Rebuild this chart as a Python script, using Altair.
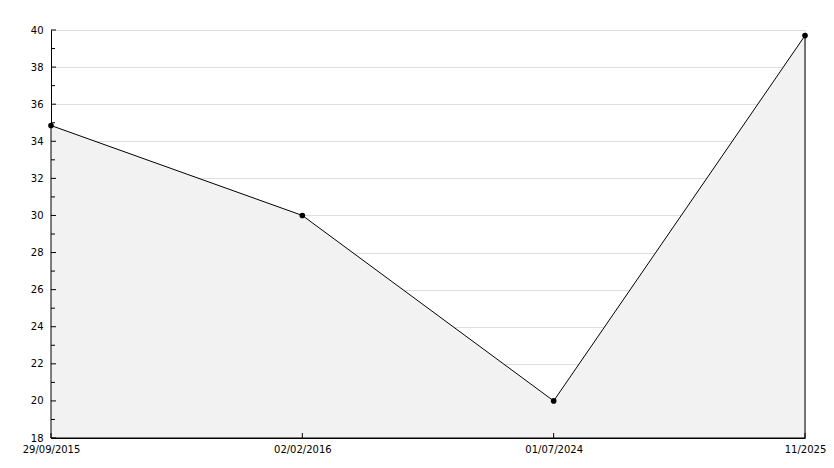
import altair as alt
import pandas as pd

dates = ["29/09/2015", "02/02/2016", "01/07/2024", "11/2025"]
values = [34.85, 30.0, 20.0, 39.7]
major_ticks = list(range(18, 41, 2))
minor_ticks = list(range(19, 40, 2))

df = pd.DataFrame({"date": dates, "value": values})
ymaj = pd.DataFrame({"value": major_ticks})
ymin = pd.DataFrame({"value": minor_ticks})
xt = pd.DataFrame({"date": dates})

W, H = 754, 408
FONT = "DejaVu Sans"

xscale = alt.Scale(type="point", domain=dates, padding=0)
yscale = alt.Scale(domain=[18, 40], zero=False, nice=False)

xaxis = alt.Axis(title=None, labelAngle=0, ticks=False, grid=False,
                 domainColor="black", labelPadding=6, labelFlush=False,
                 labelOverlap=False,
                 labelFont=FONT, labelFontSize=10, labelColor="black")
yaxis = alt.Axis(title=None, values=major_ticks, ticks=False, grid=True,
                 gridColor="#dddddd", domainColor="black", labelPadding=8,
                 labelOverlap=False, labelFlush=False,
                 labelFont=FONT, labelFontSize=10, labelColor="black")

X = alt.X("date:N", scale=xscale, sort=dates, axis=xaxis)
Y = alt.Y("value:Q", scale=yscale, axis=yaxis)

area = alt.Chart(df).mark_area(fill="#f2f2f2", stroke="black", strokeWidth=1).encode(
    x=X, y=Y, y2=alt.datum(18)
)
pts = alt.Chart(df).mark_point(shape="circle", filled=True, color="black", size=32, opacity=1).encode(
    x=X, y=Y,
)
ymajor = alt.Chart(ymaj).mark_rule(color="black").encode(
    y=Y, x=alt.value(0), x2=alt.value(5)
)
yminor = alt.Chart(ymin).mark_rule(color="black").encode(
    y=Y, x=alt.value(0), x2=alt.value(4)
)
xticks = alt.Chart(xt).mark_rule(color="black").encode(
    x=X, y=alt.value(H), y2=alt.value(H - 5)
)

chart = alt.layer(area, ymajor, yminor, xticks, pts).properties(
    width=W, height=H,
    autosize=alt.AutoSizeParams(type="none"),
    padding={"left": 43, "top": 22, "right": 21, "bottom": 22},
).configure_view(stroke=None).configure(background="white")

chart.save("out.html", embed_options={"renderer": "svg", "actions": False})
